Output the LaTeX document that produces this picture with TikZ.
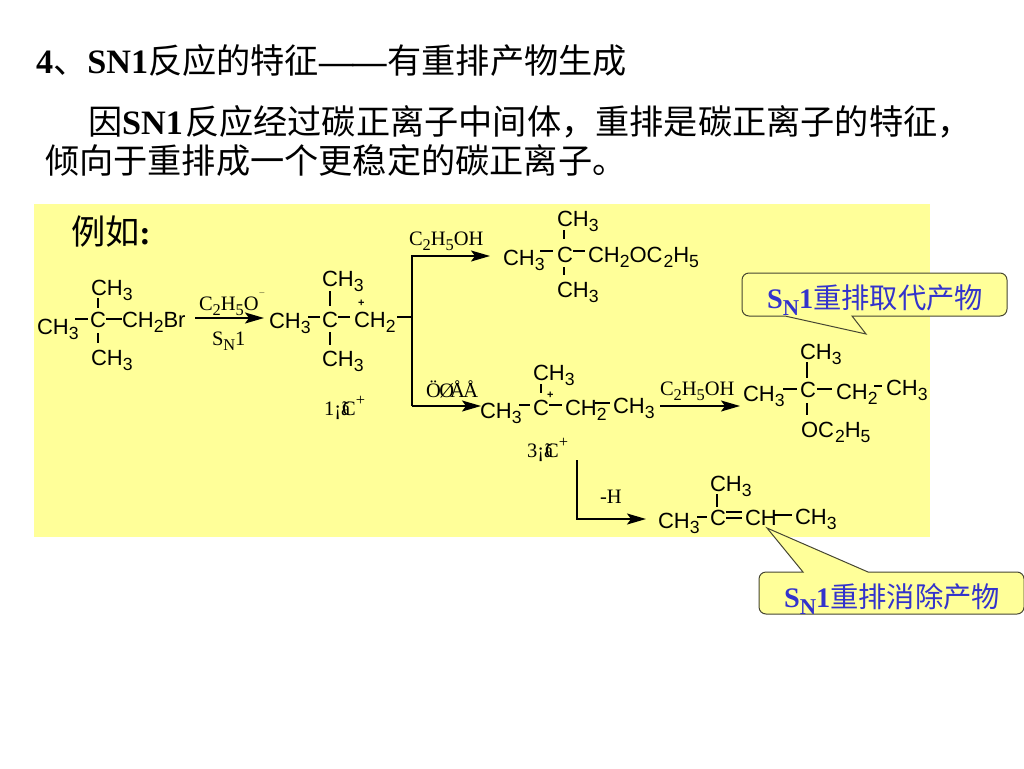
\documentclass[tikz,border=0pt]{standalone}
\usepackage{fontspec}
\setmainfont{Liberation Serif}
\newfontfamily\cjk{Noto Sans CJK SC}
\newfontfamily\chemf{Liberation Sans}
\usetikzlibrary{arrows.meta}
\definecolor{bgyellow}{RGB}{255,255,153}
\definecolor{calloutblue}{RGB}{51,51,204}
\definecolor{calloutline}{RGB}{70,70,50}
\newcommand{\lowr}[1]{\raisebox{-.26em}{\scalebox{.8}{#1}}}
\newcommand{\cj}[1]{{\cjk #1}}
\newcommand{\fwc}{{\cjk\char"FF0C}}
\newcommand{\CHt}{CH\lowr{3}}
\newcommand{\CHb}{CH\lowr{2}}
\tikzset{
  txt/.style={anchor=base west,inner sep=0pt,outer sep=0pt},
  chem/.style={txt,font=\chemf\fontsize{22}{24}\selectfont},
  rm/.style={txt,font=\fontsize{20.5}{22}\selectfont},
  head/.style={txt,font=\fontsize{34.2}{38}\selectfont},
  ctext/.style={txt,text=calloutblue,font=\fontsize{28.3}{32}\selectfont\bfseries},
  bondl/.style={line width=1.3pt,black},
  arrowl/.style={line width=1.6pt,black,-{Stealth[length=19pt,width=11pt,inset=4pt]}},
  callout/.style={draw=calloutline,line width=1pt,fill=bgyellow}
}
\newcommand{\bnd}[5]{\coordinate (#1a) at (#2,#3);\coordinate (#1b) at (#4,#5);\draw[bondl] (#1a) -- (#1b);}
\begin{document}
\begin{tikzpicture}[x=1pt,y=-1pt]
\useasboundingbox (0,0) rectangle (1024,768);
\fill[white] (0,0) rectangle (1024,768);
\fill[bgyellow] (34,204) rectangle (930,537);
% headings
\node[head] (h1) at (36,73) {\bfseries 4\cj{\mdseries 、}SN1\cj{\mdseries 反应的特征}—\kern-1pt—\kern1pt\cj{\mdseries 有重排产物生成}};
\node[head] (h2) at (88,134) {\cj{因}\textbf{SN1}\kern2pt\cj{反应经过碳正离子中间体}\fwc\cj{重排是碳正离子的特征}\fwc};
\node[head] (h3) at (45,173) {\cj{倾向于重排成一个更稳定的碳正离子。}};
\node[head] (ex) at (71,244) {\cj{例如}\textbf{:}};
% molecule 1
\node[chem] (m1t) at (91,295) {\CHt};
\node[chem] (m1l) at (37,334) {\CHt};
\node[chem] (m1c) at (90,327) {C};
\node[chem] (m1r) at (122,327) {\CHb Br};
\node[chem] (m1b) at (91,365) {\CHt};
\bnd{ba}{98}{298}{98}{308}
\bnd{bb}{98}{333}{98}{343}
\bnd{bc}{75}{319}{88}{319}
\bnd{bd}{106}{319}{122}{319}
% arrow 1
\coordinate (a1s) at (195,318);\coordinate (a1e) at (264,318);
\draw[arrowl] (a1s) -- (a1e);
\node[rm] (a1t) at (199,310) {C\lowr{2}H\lowr{5}O\raisebox{.5em}{\scalebox{.6}{$^{-}$}}};
\node[rm] (a1b) at (212,345) {S\lowr{N}1};
% molecule 2
\node[chem] (m2t) at (322,286) {\CHt};
\node[chem] (m2l) at (269,328) {\CHt};
\node[chem] (m2c) at (322,327) {C};
\node[chem] (m2r) at (354,327) {\CHb};
\node[chem] (m2p) at (358,306) {\fontsize{11}{12}\selectfont\bfseries +};
\node[chem] (m2b) at (322,366) {\CHt};
\bnd{be}{330}{291}{330}{306}
\bnd{bf}{330}{332}{330}{345}
\bnd{bg}{308}{317}{320}{317}
\bnd{bh}{338}{317}{350}{317}
\bnd{bi}{397}{317}{412}{317}
\node[rm] (d1) at (324,415) {1¡ã\kern-8pt C\raisebox{.45em}{\scalebox{.8}{+}}};
% branch
\coordinate (brt) at (412,256);\coordinate (brb) at (412,406);
\coordinate (bte) at (490,256);\coordinate (bbe) at (481,406);
\draw[arrowl] (brb) -- (brt) -- (bte);
\draw[arrowl] (brb) -- (bbe);
\node[rm] (a2t) at (409,245) {C\lowr{2}H\lowr{5}OH};
\node[rm] (a3t) at (426,397) {Ö\kern-1.5pt Ø\kern-4pt Å\kern-1.5pt Å};
% molecule 3
\node[chem] (m3t) at (557,226) {\CHt};
\node[chem] (m3l) at (503,265) {\CHt};
\node[chem] (m3c) at (557,262) {C};
\node[chem] (m3r) at (588,262) {\CHb OC\kern1pt\lowr{2}H\lowr{5}};
\node[chem] (m3b) at (557,297) {\CHt};
\bnd{bj}{564}{230}{564}{239}
\bnd{bk}{564}{267}{564}{275}
\bnd{bl}{540}{251}{553}{251}
\bnd{bm}{573}{251}{585}{251}
% molecule 4
\node[chem] (m4t) at (533,380) {\CHt};
\node[chem] (m4l) at (480,418) {\CHt};
\node[chem] (m4c) at (533,415) {C};
\node[chem] (m4r) at (565,415) {\CHb};
\node[chem] (m4e) at (613,413) {\CHt};
\node[chem] (m4p) at (547,398) {\fontsize{11}{12}\selectfont\bfseries +};
\bnd{bn}{541}{384}{541}{393}
\bnd{bo}{519}{405}{530}{405}
\bnd{bp}{549}{405}{562}{405}
\bnd{bq}{595}{403}{610}{403}
\node[rm] (d3) at (527,457) {3¡ã\kern-8pt C\raisebox{.45em}{\scalebox{.8}{+}}};
% arrow to molecule 5
\coordinate (a4s) at (660,406);\coordinate (a4e) at (740,406);
\draw[arrowl] (a4s) -- (a4e);
\node[rm] (a4t) at (660,395) {C\lowr{2}H\lowr{5}OH};
% molecule 5
\node[chem] (m5t) at (800,359) {\CHt};
\node[chem] (m5l) at (743,401) {\CHt};
\node[chem] (m5c) at (800,397) {C};
\node[chem] (m5r) at (836,399) {\CHb};
\node[chem] (m5e) at (886,395) {\CHt};
\node[chem] (m5b) at (801,437) {OC\kern1pt\lowr{2}H\lowr{5}};
\bnd{br}{807}{362}{807}{378}
\bnd{bs}{807}{403}{807}{415}
\bnd{bt}{783}{389}{797}{389}
\bnd{bu}{817}{389}{832}{389}
\bnd{bv}{874}{386}{882}{386}
% elimination arrow
\coordinate (a5s) at (577,460);\coordinate (a5m) at (577,519);\coordinate (a5e) at (646,519);
\draw[arrowl] (a5s) -- (a5m) -- (a5e);
\node[rm] (a5t) at (600,503) {-H};
% molecule 6
\node[chem] (m6t) at (710,491) {\CHt};
\node[chem] (m6l) at (658,528) {\CHt};
\node[chem] (m6c) at (710,525) {C};
\node[chem] (m6r) at (745,525) {CH};
\node[chem] (m6e) at (795,524) {\CHt};
\bnd{bw}{717}{494}{717}{507}
\bnd{bx}{697}{517}{707}{517}
\bnd{by}{726}{512}{742}{512}
\bnd{bz}{726}{518}{742}{518}
\bnd{bzz}{773}{515}{792}{515}
% callouts
\draw[callout] (800,273) [rounded corners=7pt] -- (1007,273) -- (1007,316) [sharp corners] -- (852,316) -- (866,334) -- (785,316) [rounded corners=7pt] -- (742,316) -- (742,273) -- cycle;
\node[ctext] (c1) at (767,308) {S\lowr{N}1\cj{\mdseries 重排取代产物}};
\draw[callout] (803,572) -- (767,528) -- (868,572) [rounded corners=7pt] -- (1024,572) -- (1024,614) -- (759,614) -- (759,572) [sharp corners] -- cycle;
\node[ctext] (c2) at (784,607) {S\lowr{N}1\cj{\mdseries 重排消除产物}};
\end{tikzpicture}
\end{document}
